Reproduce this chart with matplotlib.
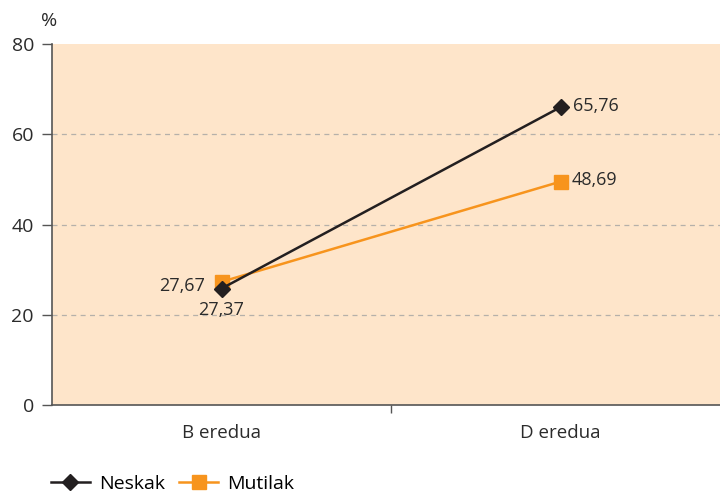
import matplotlib.pyplot as plt
from matplotlib.ticker import FixedLocator

# data
categories = ['B eredua', 'D eredua']
neskak = [25.8, 66.0]
mutilak = [27.3, 49.5]
neskak_labels = ['27,37', '65,76']
mutilak_labels = ['27,67', '48,69']
yticks = [0, 20, 40, 60, 80]

plt.rcParams['font.family'] = ['Open Sans', 'DejaVu Sans']

BLACK = '#231F20'
ORANGE = '#F7941D'
PEACH = '#FEE5CA'
TXT = '#2B2B2B'

fig = plt.figure(figsize=(7.2, 4.93), dpi=100)
ax = fig.add_axes([52/720, 1-405/493, 678/720, 361/493])
ax.set_facecolor(PEACH)

x = list(range(len(categories)))
ax.plot(x, mutilak, color=ORANGE, lw=1.8, marker='s', ms=10.5, label='Mutilak', zorder=3)
ax.plot(x, neskak, color=BLACK, lw=1.8, marker='D', ms=8.5, label='Neskak', zorder=4)

# value labels
fs_val = 13
ax.annotate(neskak_labels[0], (x[0], neskak[0]), xytext=(0, -9), textcoords='offset points',
            ha='center', va='top', fontsize=fs_val, color=TXT)
ax.annotate(mutilak_labels[0], (x[0], mutilak[0]), xytext=(-12, -3), textcoords='offset points',
            ha='right', va='center', fontsize=fs_val, color=TXT)
ax.annotate(neskak_labels[1], (x[1], neskak[1]), xytext=(9, 1), textcoords='offset points',
            ha='left', va='center', fontsize=fs_val, color=TXT)
ax.annotate(mutilak_labels[1], (x[1], mutilak[1]), xytext=(8, 1), textcoords='offset points',
            ha='left', va='center', fontsize=fs_val, color=TXT)

ax.set_xlim(-0.5, 1.5)
ax.set_ylim(0, 80)
ax.set_yticks(yticks)
ax.set_yticklabels([str(v) for v in yticks], fontsize=14, color=TXT)
ax.set_xticks(x)
ax.set_xticklabels(categories, fontsize=13.5, color=TXT)
ax.xaxis.set_minor_locator(FixedLocator([0.5]))
ax.tick_params(axis='x', which='major', length=0, pad=14)
ax.tick_params(axis='x', which='minor', length=6, width=1, color='#555555')
ax.tick_params(axis='y', length=7, width=1, color='#555555', pad=6)

for v in yticks[1:-1]:
    ax.axhline(v, color='#B5B0AA', lw=0.9, ls=(0, (4, 3.5)), zorder=1)

for s in ['top', 'right']:
    ax.spines[s].set_visible(False)
for s in ['left', 'bottom']:
    ax.spines[s].set_color('#555555')
    ax.spines[s].set_linewidth(1.2)

fig.text(41/720, 1-21/493, '%', fontsize=14, color=TXT, ha='left', va='center')

handles, labels = ax.get_legend_handles_labels()
fig.legend(handles[::-1], labels[::-1], loc='center left', bbox_to_anchor=(51/720, 1-484/493),
           ncol=2, frameon=False, fontsize=14, handlelength=2.0, handletextpad=0.45,
           columnspacing=0.75, borderaxespad=0, borderpad=0)

fig.savefig('out.png', dpi=100)
